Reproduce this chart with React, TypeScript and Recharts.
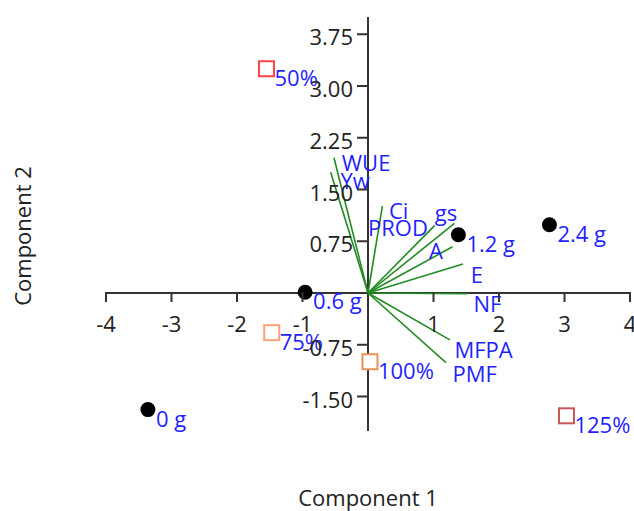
import React from 'react';
import { ScatterChart, Scatter, XAxis, YAxis, ReferenceLine, Customized } from 'recharts';

// ---- data ----
const doseNames = ['0 g', '0.6 g', '1.2 g', '2.4 g'];
const doseX = [-3.36, -0.96, 1.38, 2.77];
const doseY = [-1.69, 0.01, 0.845, 0.99];

const levelNames = ['50%', '75%', '100%', '125%'];
const levelX = [-1.55, -1.47, 0.03, 3.03];
const levelY = [3.25, -0.575, -0.996, -1.78];

const varNames = ['WUE', 'Yw', 'Ci', 'PROD', 'gs', 'A', 'E', 'NF', 'MFPA', 'PMF'];
const loadX = [-0.52, -0.57, 0.22, 1.02, 1.32, 1.29, 1.45, 1.51, 1.25, 1.19];
const loadY = [1.96, 1.75, 1.26, 0.98, 1.01, 0.67, 0.42, -0.01, -0.68, -1.01];
const varLabelX = [-0.40, -0.42, 0.32, 0.0, 1.02, 0.93, 1.57, 1.61, 1.32, 1.29];
const varLabelY = [1.90, 1.64, 1.21, 0.95, 1.18, 0.63, 0.27, -0.14, -0.81, -1.16];

const xTicks = [-4, -3, -2, -1, 1, 2, 3, 4];
const yTicks = [3.75, 3.0, 2.25, 1.5, 0.75, -0.75, -1.5];
const xDomain = [-4, 4];
const yDomain = [-2, 4];

// ---- styles / layout ----
const W = 634;
const H = 511;
const AXIS_SIZE = 1;
const M = { top: 17, right: 4, bottom: 79, left: 105 };
const PLOT_LEFT = M.left + AXIS_SIZE;
const PLOT_W = W - PLOT_LEFT - M.right;
const PLOT_H = H - M.top - M.bottom - AXIS_SIZE;
const ORIGIN_X = PLOT_LEFT + (PLOT_W * (0 - xDomain[0])) / (xDomain[1] - xDomain[0]);
const ORIGIN_Y = M.top + (PLOT_H * (yDomain[1] - 0)) / (yDomain[1] - yDomain[0]);
const FONT = "'Segoe UI', 'Open Sans', 'Noto Sans', sans-serif";
const FS = 22;
const AXIS = '#333333';
const TEXT = '#222222';
const BLUE = '#1f1fff';
const GREEN = '#228b22';
const levelColors = ['#ff4545', '#ffa07c', '#e8925c', '#c95656'];

const doseData = doseNames.map((name, i) => ({ name, x: doseX[i], y: doseY[i] }));
const levelData = levelNames.map((name, i) => ({ name, x: levelX[i], y: levelY[i], idx: i }));
const varLabelData = varNames.map((name, i) => ({ name, x: varLabelX[i], y: varLabelY[i] }));

const XTick = (props: any) => {
  const { x, payload } = props;
  return (
    <g>
      <line x1={x} x2={x} y1={ORIGIN_Y - 1} y2={ORIGIN_Y + 9} stroke={AXIS} strokeWidth={2} />
      <text x={x} y={ORIGIN_Y + 30} textAnchor="middle" dominantBaseline="central" fontSize={FS} fontFamily={FONT} fill={TEXT}>
        {payload.value}
      </text>
    </g>
  );
};

const YTick = (props: any) => {
  const { y, payload } = props;
  return (
    <g>
      <line x1={ORIGIN_X - 11} x2={ORIGIN_X} y1={y} y2={y} stroke={AXIS} strokeWidth={2} />
      <text x={ORIGIN_X - 15} y={y + 2} textAnchor="end" dominantBaseline="central" fontSize={FS} fontFamily={FONT} fill={TEXT}>
        {Number(payload.value).toFixed(2)}
      </text>
    </g>
  );
};

const DoseShape = (props: any) => {
  const { cx, cy, payload } = props;
  return (
    <g>
      <circle cx={cx} cy={cy} r={7.5} fill="#000" />
      <text x={cx + 8} y={cy + 8} dominantBaseline="central" fontSize={FS} fontFamily={FONT} fill={BLUE}>
        {payload.name}
      </text>
    </g>
  );
};

const LevelShape = (props: any) => {
  const { cx, cy, payload } = props;
  return (
    <g>
      <rect x={cx - 7.5} y={cy - 7.5} width={15} height={15} fill="#fff" stroke={levelColors[payload.idx]} strokeWidth={2} />
      <text x={cx + 8} y={cy + 8} dominantBaseline="central" fontSize={FS} fontFamily={FONT} fill={BLUE}>
        {payload.name}
      </text>
    </g>
  );
};

const VarLabelShape = (props: any) => {
  const { cx, cy, payload } = props;
  return (
    <text x={cx} y={cy} dominantBaseline="central" fontSize={FS} fontFamily={FONT} fill={BLUE}>
      {payload.name}
    </text>
  );
};

const Titles = () => (
  <g>
    <text x={368} y={497} textAnchor="middle" dominantBaseline="central" fontSize={FS} fontFamily={FONT} fill={TEXT}>
      Component 1
    </text>
    <text
      x={22}
      y={236}
      textAnchor="middle"
      dominantBaseline="central"
      fontSize={FS}
      fontFamily={FONT}
      fill={TEXT}
      transform="rotate(-90 22 236)"
    >
      Component 2
    </text>
  </g>
);

export default function App() {
  return (
    <div style={{ position: 'absolute', left: 0, top: 0, background: '#fff' }}>
      <ScatterChart width={W} height={H} margin={M}>
        <XAxis
          type="number"
          dataKey="x"
          domain={xDomain}
          ticks={xTicks}
          interval={0}
          height={AXIS_SIZE}
          axisLine={false}
          tickLine={false}
          tickSize={0}
          tick={XTick}
        />
        <YAxis
          type="number"
          dataKey="y"
          domain={yDomain}
          ticks={yTicks}
          interval={0}
          width={AXIS_SIZE}
          axisLine={false}
          tickLine={false}
          tickSize={0}
          tick={YTick}
        />
        <ReferenceLine y={0} stroke={AXIS} strokeWidth={2} />
        <ReferenceLine x={0} stroke={AXIS} strokeWidth={2} />
        {varNames.map((name, i) => (
          <ReferenceLine
            key={name}
            segment={[{ x: 0, y: 0 }, { x: loadX[i], y: loadY[i] }]}
            stroke={GREEN}
            strokeWidth={1.6}
          />
        ))}
        <Scatter data={varLabelData} shape={VarLabelShape} isAnimationActive={false} />
        <Scatter data={levelData} shape={LevelShape} isAnimationActive={false} />
        <Scatter data={doseData} shape={DoseShape} isAnimationActive={false} />
        <Customized component={Titles} />
      </ScatterChart>
    </div>
  );
}
